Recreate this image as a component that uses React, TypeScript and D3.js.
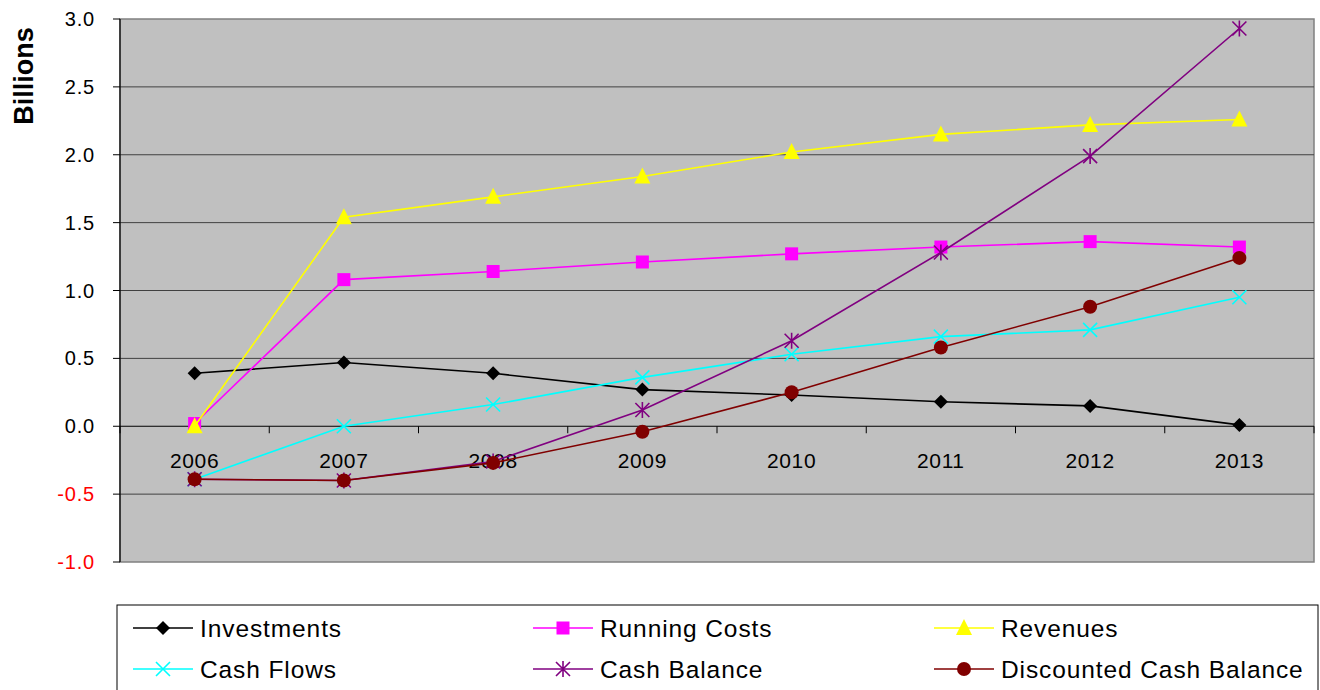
import React from "react";
import * as d3 from "d3";

const years = ["2006", "2007", "2008", "2009", "2010", "2011", "2012", "2013"];
const investments = [0.39, 0.47, 0.39, 0.27, 0.23, 0.18, 0.15, 0.01];
const runningCosts = [0.02, 1.08, 1.14, 1.21, 1.27, 1.32, 1.36, 1.32];
const revenues = [0.0, 1.54, 1.69, 1.84, 2.02, 2.15, 2.22, 2.26];
const cashFlows = [-0.39, 0.0, 0.16, 0.36, 0.53, 0.66, 0.71, 0.95];
const cashBalance = [-0.39, -0.4, -0.26, 0.12, 0.63, 1.28, 1.99, 2.93];
const discountedCashBalance = [-0.39, -0.4, -0.27, -0.04, 0.25, 0.58, 0.88, 1.24];
const yTicks = [-1.0, -0.5, 0.0, 0.5, 1.0, 1.5, 2.0, 2.5, 3.0];

type Marker = "diamond" | "square" | "triangle" | "x" | "star" | "circle";

const series: { name: string; values: number[]; color: string; marker: Marker }[] = [
  { name: "Investments", values: investments, color: "#000000", marker: "diamond" },
  { name: "Running Costs", values: runningCosts, color: "#FF00FF", marker: "square" },
  { name: "Revenues", values: revenues, color: "#FFFF00", marker: "triangle" },
  { name: "Cash Flows", values: cashFlows, color: "#00FFFF", marker: "x" },
  { name: "Cash Balance", values: cashBalance, color: "#800080", marker: "star" },
  { name: "Discounted Cash Balance", values: discountedCashBalance, color: "#800000", marker: "circle" },
];

const FONT = "'Liberation Sans', Arial, sans-serif";

function MarkerShape({ type, x, y, color }: { type: Marker; x: number; y: number; color: string }) {
  switch (type) {
    case "diamond":
      return <path d={`M${x},${y - 7}L${x + 7},${y}L${x},${y + 7}L${x - 7},${y}Z`} fill={color} />;
    case "square":
      return <rect x={x - 6.5} y={y - 6.5} width={13} height={13} fill={color} />;
    case "triangle":
      return <path d={`M${x},${y - 9}L${x + 8},${y + 7}L${x - 8},${y + 7}Z`} fill={color} />;
    case "x":
      return (
        <path
          d={`M${x - 7},${y - 7}L${x + 7},${y + 7}M${x - 7},${y + 7}L${x + 7},${y - 7}`}
          stroke={color}
          strokeWidth={1.6}
        />
      );
    case "star":
      return (
        <path
          d={`M${x - 7},${y - 7}L${x + 7},${y + 7}M${x - 7},${y + 7}L${x + 7},${y - 7}M${x},${y - 8}L${x},${y + 8}`}
          stroke={color}
          strokeWidth={1.6}
        />
      );
    case "circle":
      return <circle cx={x} cy={y} r={7} fill={color} />;
  }
}

// plain hyphen for negatives, one decimal place
const fmtTick = (t: number) => d3.format(".1f")(t).replace("\u2212", "-");

export default function App() {
  const left = 120;
  const right = 1314;
  const top = 19;
  const bottom = 562;

  const x = d3.scaleBand<string>().domain(years).range([left, right]);
  const y = d3.scaleLinear().domain([-1, 3]).range([bottom, top]);
  const cx = (yr: string) => (x(yr) ?? 0) + x.bandwidth() / 2;
  const y0 = y(0);

  const line = d3
    .line<number>()
    .x((_, i) => cx(years[i]))
    .y((v) => y(v));

  const legendCols = [133, 533, 934];
  const legendRows = [628, 669];

  return (
    <svg
      width={1320}
      height={690}
      style={{ position: "absolute", left: 0, top: 0, background: "#fff" }}
      fontFamily={FONT}
    >
      {/* plot area */}
      <rect x={left} y={top} width={right - left} height={bottom - top} fill="#C0C0C0" stroke="#808080" strokeWidth={1.5} />

      {/* gridlines */}
      {yTicks
        .filter((t) => t !== 0 && t !== -1 && t !== 3)
        .map((t) => (
          <line key={t} x1={left} x2={right} y1={y(t)} y2={y(t)} stroke="#404040" strokeWidth={1} />
        ))}

      {/* left axis */}
      <line x1={left} x2={left} y1={top} y2={bottom} stroke="#000" strokeWidth={1.2} />
      {yTicks.map((t) => (
        <g key={t}>
          <line x1={left - 7} x2={left} y1={y(t)} y2={y(t)} stroke="#000" strokeWidth={1} />
          <text
            x={95}
            y={y(t)}
            textAnchor="end"
            dominantBaseline="central"
            fontSize={20}
            letterSpacing={0.8}
            fill={t < 0 ? "#FF0000" : "#000"}
          >
            {fmtTick(t)}
          </text>
        </g>
      ))}

      {/* category axis at zero */}
      <line x1={left} x2={right} y1={y0} y2={y0} stroke="#000" strokeWidth={1.2} />
      {years.map((yr) => (
        <line key={`tk${yr}`} x1={x(yr) ?? 0} x2={x(yr) ?? 0} y1={y0} y2={y0 + 7} stroke="#000" strokeWidth={1} />
      ))}
      <line x1={right} x2={right} y1={y0} y2={y0 + 7} stroke="#000" strokeWidth={1} />
      {years.map((yr) => (
        <text key={`lb${yr}`} x={cx(yr)} y={468} textAnchor="middle" fontSize={21} letterSpacing={0.6} fill="#000">
          {yr}
        </text>
      ))}

      {/* axis title */}
      <text
        transform="translate(33,76) rotate(-90)"
        textAnchor="middle"
        fontSize={27}
        fontWeight="bold"
        fill="#000"
      >
        Billions
      </text>

      {/* series */}
      {series.map((s) => (
        <g key={s.name}>
          <path d={line(s.values) ?? ""} fill="none" stroke={s.color} strokeWidth={1.6} />
          {s.values.map((v, i) => (
            <MarkerShape key={i} type={s.marker} x={cx(years[i])} y={y(v)} color={s.color} />
          ))}
        </g>
      ))}

      {/* legend */}
      <rect x={117} y={605} width={1201} height={100} fill="#fff" stroke="#000" strokeWidth={1} />
      {series.map((s, i) => {
        const lx = legendCols[i % 3];
        const ly = legendRows[Math.floor(i / 3)];
        return (
          <g key={`lg${s.name}`}>
            <line x1={lx} x2={lx + 60} y1={ly} y2={ly} stroke={s.color} strokeWidth={1.6} />
            <MarkerShape type={s.marker} x={lx + 30} y={ly} color={s.color} />
            <text x={lx + 67} y={ly} dominantBaseline="central" fontSize={24.5} letterSpacing={0.9} fill="#000">
              {s.name}
            </text>
          </g>
        );
      })}
    </svg>
  );
}
